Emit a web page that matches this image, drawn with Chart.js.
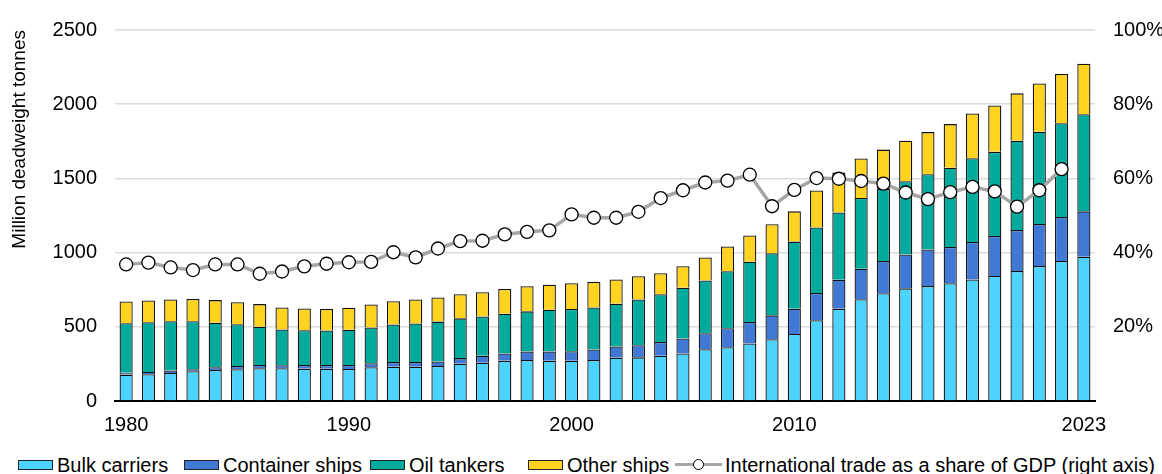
<!DOCTYPE html>
<html>
<head>
<meta charset="utf-8">
<script src="https://cdn.jsdelivr.net/npm/chart.js@4.4.1/dist/chart.umd.min.js"></script>
<style>
body { margin: 0; background: #fff; font-family: 'Liberation Sans', Arial, sans-serif; }
#wrap { position: relative; width: 1162px; height: 474px; }
#box { position: absolute; left: 0; top: 0; width: 1162px; height: 440px; }
#legenda { position: absolute; left: 0; top: 453px; width: 1162px; height: 24px; font-size: 20px; line-height: 24px; color: #000; }
.item { position: absolute; top: 0; height: 24px; white-space: nowrap; }
.cor { position: absolute; left: 0; top: 7px; width: 33px; height: 8px; border: 1px solid #222; }
.txt { position: absolute; top: 0; }
.linha { position: absolute; left: 0; top: 10px; width: 47px; height: 3px; background: #a6a6a6; }
.ponto { position: absolute; left: 18px; top: 6px; width: 9px; height: 9px; border: 1px solid #000; border-radius: 50%; background: #fff; }
</style>
</head>
<body>
<div id="wrap">
  <div id="box"><canvas id="fleetChart"></canvas></div>
  <div id="legenda">
    <div class="item" style="left:18px"><span class="cor" style="background:#4cd3ff"></span><span class="txt" style="left:39px">Bulk carriers</span></div>
    <div class="item" style="left:184px"><span class="cor" style="background:#3f78d5"></span><span class="txt" style="left:39px">Container ships</span></div>
    <div class="item" style="left:370px"><span class="cor" style="background:#00aa9c"></span><span class="txt" style="left:39px">Oil tankers</span></div>
    <div class="item" style="left:528px"><span class="cor" style="background:#ffd320"></span><span class="txt" style="left:39px">Other ships</span></div>
    <div class="item" style="left:675px"><span class="linha"></span><span class="ponto"></span><span class="txt" style="left:50px">International trade as a share of GDP (right axis)</span></div>
  </div>
</div>
<script>
// Dados (milhões de tpb e % do PIB)
const years = ['1980','1981','1982','1983','1984','1985','1986','1987','1988','1989','1990',
  '1991','1992','1993','1994','1995','1996','1997','1998','1999','2000','2001',
  '2002','2003','2004','2005','2006','2007','2008','2009','2010','2011',
  '2012','2013','2014','2015','2016','2017','2018','2019','2020','2021','2022','2023'];
const bulkCarriers = [178,181,189,201,209,214,221,221,218,218,216,
  227,231,231,236,251,258,271,276,271,271,276,
  291,294,305,320,349,362,387,416,451,544,
  622,686,726,759,775,793,819,843,876,910,943,972];
const containerShips = [13,15,16,13,18,22,22,20,25,25,27,
  27,32,32,31,38,47,49,58,63,65,71,
  76,82,93,102,108,129,146,161,171,184,
  195,206,217,228,246,245,253,269,276,283,297,306];
const oilTankers = [333,335,332,323,300,281,257,241,234,232,237,
  241,252,259,268,268,265,268,270,281,284,283,
  288,308,321,341,355,383,406,419,452,441,
  454,476,488,494,507,534,564,567,602,621,632,654];
const otherShips = [146,146,147,151,153,149,153,148,147,145,148,
  155,158,162,162,162,163,167,169,168,173,173,
  164,157,142,145,155,167,177,195,204,249,
  268,266,263,273,284,294,301,312,319,326,332,341];
const tradeShare = [36.8,37.3,36.0,35.3,36.8,36.8,34.3,34.9,36.3,37.0,37.4,
  37.5,40.1,38.7,41.1,43.1,43.2,44.9,45.6,46.0,50.3,49.4,
  49.4,51.0,54.7,56.8,58.9,59.4,61.0,52.5,56.9,60.1,
  59.9,59.3,58.6,56.2,54.4,56.3,57.7,56.5,52.4,56.8,62.5,null];
const xLabels = ['1980','1990','2000','2010','2023'];

Chart.defaults.font.family = "'Liberation Sans', Arial, sans-serif";
Chart.defaults.font.size = 20;
Chart.defaults.color = '#000';

function barSet(label, data, color) {
  return {
    type: 'bar',
    label: label,
    data: data,
    backgroundColor: color,
    borderColor: '#111',
    borderWidth: 1.3,
    barPercentage: 0.59,
    categoryPercentage: 1,
    yAxisID: 'y',
    order: 1
  };
}

const ctx = document.getElementById('fleetChart').getContext('2d');
const fleetChart = new Chart(ctx, {
  data: {
    labels: years,
    datasets: [
      {
        type: 'line',
        label: 'International trade as a share of GDP (right axis)',
        data: tradeShare,
        yAxisID: 'y1',
        borderColor: '#a6a6a6',
        borderWidth: 3.5,
        pointRadius: 6.5,
        pointBackgroundColor: '#fff',
        pointBorderColor: '#000',
        pointBorderWidth: 1.3,
        order: 0
      },
      barSet('Bulk carriers', bulkCarriers, '#4cd3ff'),
      barSet('Container ships', containerShips, '#3f78d5'),
      barSet('Oil tankers', oilTankers, '#00aa9c'),
      barSet('Other ships', otherShips, '#ffd320')
    ]
  },
  options: {
    responsive: true,
    maintainAspectRatio: false,
    animation: false,
    layout: { padding: { top: 25, bottom: 9, left: 0, right: 0 } },
    plugins: {
      legend: { display: false },
      tooltip: { enabled: false }
    },
    scales: {
      x: {
        stacked: true,
        grid: { display: false },
        border: { color: '#000', width: 2 },
        ticks: {
          autoSkip: false,
          maxRotation: 0,
          padding: 4,
          callback: function(value) {
            const lab = this.getLabelForValue(value);
            return xLabels.includes(lab) ? lab : '';
          }
        },
        afterFit: s => { s.height = 30; }
      },
      y: {
        stacked: true,
        position: 'left',
        min: 0,
        max: 2500,
        ticks: { stepSize: 500, padding: 18, callback: v => String(v) },
        grid: { color: '#dcdcdc', lineWidth: 1.5, drawTicks: false },
        border: { display: false },
        title: {
          display: true,
          text: 'Million deadweight tonnes',
          align: 'end',
          font: { size: 19 },
          padding: { top: 8, bottom: 0 }
        },
        afterFit: s => { s.width = 115; }
      },
      y1: {
        position: 'right',
        min: 0,
        max: 100,
        ticks: {
          stepSize: 20,
          padding: 18,
          callback: v => v === 0 ? '' : v + '%'
        },
        grid: { display: false, drawTicks: false },
        border: { display: false },
        afterFit: s => { s.width = 67; }
      }
    }
  }
});
</script>
</body>
</html>
